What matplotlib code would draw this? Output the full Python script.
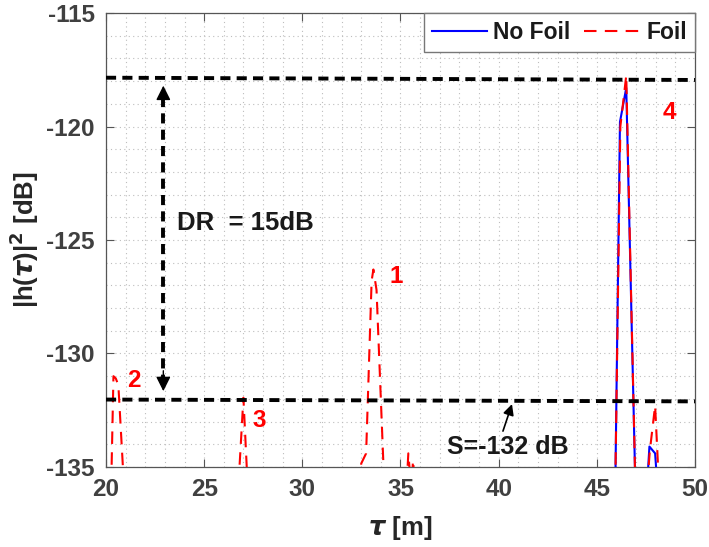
import matplotlib

matplotlib.use("Agg")
import matplotlib.pyplot as plt  # noqa: E402
from matplotlib.ticker import MultipleLocator  # noqa: E402

# --- data (values below -135 dB are hidden by the axis) ---
TAU_FOIL = [20.0, 20.25, 20.38, 20.5, 20.63, 20.9, 21.2,
            26.6, 26.78, 27.0, 27.18, 27.4,
            32.8, 33.0, 33.25, 33.53, 33.62, 33.78, 34.15, 34.4,
            35.3, 35.4, 35.55, 35.64, 35.75,
            45.8, 45.95, 46.2, 46.5, 46.95, 47.1,
            47.55, 47.7, 47.97, 48.15, 48.4, 50.0]
H_FOIL = [-140, -136.5, -131.0, -131.1, -131.4, -135.6, -140,
          -140, -135.3, -131.95, -135.2, -140,
          -140, -134.85, -134.4, -126.8, -126.3, -127.2, -135.3, -140,
          -136.0, -134.4, -136.0, -134.7, -136.0,
          -140, -135.3, -120.0, -117.75, -135.3, -140,
          -136.0, -134.3, -132.3, -135.5, -140, -140]

TAU_NOFOIL = [20.0, 45.8, 45.95, 46.18, 46.5, 46.95, 47.1,
              47.55, 47.68, 47.97, 48.1, 48.4, 50.0]
H_NOFOIL = [-140, -140, -135.3, -119.8, -118.3, -135.3, -140,
            -136.0, -134.1, -134.4, -136.0, -140, -140]

# reference levels (dynamic range markers)
TOP_LEVEL = [-117.85, -117.95]
FLOOR_LEVEL = [-132.03, -132.11]
LEVEL_TAU = [20.0, 50.0]

PEAK_LABELS = ["1", "2", "3", "4"]
PEAK_LABEL_POS = [(34.77, -126.6), (21.43, -131.2), (27.79, -132.95), (48.68, -119.4)]

FONT = "Liberation Sans"
plt.rcParams["font.family"] = [FONT, "DejaVu Sans"]
plt.rcParams["font.weight"] = "bold"
plt.rcParams["mathtext.fontset"] = "dejavusans"
plt.rcParams["axes.unicode_minus"] = False

fig = plt.figure(figsize=(7.09, 5.47), dpi=100)
ax = fig.add_axes([0.1495, 0.1463, 0.8307, 0.8299])

ax.plot(TAU_NOFOIL, H_NOFOIL, color="#0000ff", lw=1.5, label="No Foil", zorder=3)
ax.plot(TAU_FOIL, H_FOIL, color="#ff0000", lw=1.5, linestyle=(0, (6, 4)),
        label="Foil", zorder=4)

# dynamic-range reference lines
ax.plot(LEVEL_TAU, TOP_LEVEL, color="black", lw=2.8, dashes=(2.6, 1.6), zorder=5)
ax.plot(LEVEL_TAU, FLOOR_LEVEL, color="black", lw=2.8, dashes=(2.6, 1.6), zorder=5)

# double-headed dashed arrow
arr_x = 22.92
arr_top, arr_bot = -118.2, -131.66
ax.plot([arr_x, arr_x], [arr_top - 0.5, arr_bot + 0.5], color="black", lw=2.8,
        dashes=(2.6, 1.6), zorder=5)
for tip, tail in ((arr_top, arr_top - 0.9), (arr_bot, arr_bot + 0.9)):
    ax.annotate("", xy=(arr_x, tip), xytext=(arr_x, tail),
                arrowprops=dict(arrowstyle="-|>", color="black", lw=1.0,
                                mutation_scale=22, shrinkA=0, shrinkB=0),
                zorder=6)

ax.text(23.63, -124.23, "DR  = 15dB", fontsize=18.5, fontweight="bold",
        ha="left", va="center", color="#1a1a1a")

ax.annotate("", xy=(40.68, -132.23), xytext=(40.22, -133.42),
            arrowprops=dict(arrowstyle="-|>", color="black", lw=1.2,
                            mutation_scale=16, shrinkA=0, shrinkB=0), zorder=6)
ax.text(40.45, -134.11, "S=-132 dB", fontsize=18, fontweight="bold",
        ha="center", va="center", color="#1a1a1a")

for lab, (px, py) in zip(PEAK_LABELS, PEAK_LABEL_POS):
    ax.text(px, py, lab, color="#ff0000", fontsize=17.5, fontweight="bold",
            ha="center", va="center")

ax.set_xlim(20, 50)
ax.set_ylim(-135, -115)
ax.xaxis.set_major_locator(MultipleLocator(5))
ax.yaxis.set_major_locator(MultipleLocator(5))
ax.xaxis.set_minor_locator(MultipleLocator(1))
ax.yaxis.set_minor_locator(MultipleLocator(1))
ax.grid(True, which="both", linestyle=(0, (1, 3)), color="#bdbdbd", lw=0.8)
ax.set_axisbelow(True)
ax.tick_params(which="major", direction="in", length=6, width=0.8, top=True,
               right=True, colors="#555555", labelcolor="#404040",
               labelsize=17.5, pad=8)
ax.tick_params(which="minor", length=0, top=True, right=True)
for lbl in ax.get_xticklabels() + ax.get_yticklabels():
    lbl.set_fontweight("bold")
for sp in ax.spines.values():
    sp.set_color("#555555")
    sp.set_linewidth(0.9)

ax.set_xlabel(r"$\tau$ [m]", fontsize=18.5, fontweight="bold", color="#262626",
              labelpad=9)
ax.set_ylabel(r"|h($\tau$)|$^2$ [dB]", fontsize=18.5, fontweight="bold",
              color="#262626", labelpad=4)

leg = ax.legend(loc="upper right", ncol=2, fontsize=16.5, frameon=True,
                fancybox=False, framealpha=1, edgecolor="#777777",
                borderaxespad=0, handlelength=2.4, handletextpad=0.3,
                columnspacing=0.6, borderpad=0.35)
leg.get_frame().set_linewidth(1.0)
for t in leg.get_texts():
    t.set_fontweight("bold")
    t.set_color("#1a1a1a")

fig.savefig("out.png", dpi=100)
